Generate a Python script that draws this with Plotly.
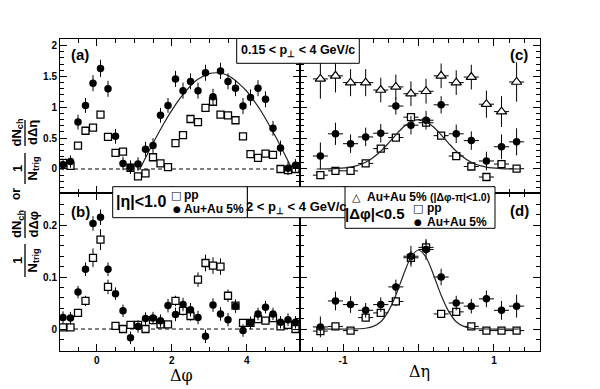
import plotly.graph_objects as go

# ---------------- data ----------------
dphi = [-0.9, -0.7, -0.5, -0.3, -0.1, 0.1, 0.3, 0.5, 0.7, 0.9, 1.1, 1.3, 1.5, 1.7, 1.9, 2.1,
        2.3, 2.5, 2.7, 2.9, 3.1, 3.3, 3.5, 3.7, 3.9, 4.1, 4.3, 4.5, 4.7, 4.9, 5.1, 5.3]
deta = [-1.3, -1.1, -0.9, -0.7, -0.5, -0.3, -0.1, 0.1, 0.3, 0.5, 0.7, 0.9, 1.1, 1.3]

# panel (a): 0.15 < pT < 4 GeV/c, dN/dDphi
a_auau = [0.07, 0.12, 0.76, 1.03, 1.39, 1.63, 1.30, 0.53, 0.09, 0.03, 0.08, 0.32, 0.38, 0.87, 1.03, 1.46,
          1.27, 1.42, 1.27, 1.56, 1.17, 1.59, 1.42, 1.31, 1.02, 1.16, 1.31, 1.13, 0.66, 0.34, 0.01, 0.06]
a_auau_err = [0.09, 0.10, 0.12, 0.12, 0.13, 0.14, 0.13, 0.12, 0.11, 0.11, 0.11, 0.12, 0.12, 0.12, 0.12, 0.13,
              0.13, 0.13, 0.13, 0.13, 0.13, 0.13, 0.13, 0.13, 0.13, 0.13, 0.13, 0.13, 0.12, 0.12, 0.11, 0.10]
a_pp = [0.10, 0.05, 0.38, 0.62, 0.67, 0.88, 0.52, 0.26, 0.28, 0.02, -0.12, -0.07, 0.19, 0.09, 0.03, 0.42,
        0.55, 0.81, 0.76, 0.99, 1.09, 0.88, 0.87, 0.79, 0.53, 0.24, 0.18, 0.25, 0.23, 0.00, -0.02, 0.00]
a_pp_err = [0.05] * 32

# panel (b): 2 < pT < 4 GeV/c, dN/dDphi
b_auau = [0.022, 0.021, 0.071, 0.115, 0.203, 0.215, 0.115, 0.068, 0.035, -0.017, 0.005, 0.020, 0.021, 0.016,
          0.045, 0.028, 0.047, 0.037, 0.022, -0.014, 0.046, 0.029, 0.018, 0.044, -0.003, 0.012, 0.029, 0.042,
          0.029, 0.013, 0.018, 0.013]
b_auau_err = [0.012, 0.012, 0.012, 0.013, 0.014, 0.015, 0.013, 0.012, 0.012, 0.012, 0.012, 0.012, 0.012, 0.012,
              0.013, 0.013, 0.013, 0.013, 0.013, 0.013, 0.013, 0.013, 0.013, 0.013, 0.012, 0.012, 0.012, 0.012,
              0.012, 0.012, 0.012, 0.012]
b_pp = [0.003, 0.003, 0.031, 0.054, 0.137, 0.172, 0.081, 0.006, 0.000, 0.008, 0.008, 0.000, 0.017, 0.009,
        0.009, 0.054, 0.035, 0.025, 0.095, 0.127, 0.122, 0.120, 0.064, 0.045, 0.012, 0.012, 0.019, 0.016,
        0.021, 0.005, 0.008, 0.000]
b_pp_err = [0.005, 0.005, 0.008, 0.010, 0.018, 0.020, 0.014, 0.006, 0.005, 0.005, 0.005, 0.005, 0.006, 0.006,
            0.006, 0.010, 0.009, 0.009, 0.014, 0.016, 0.016, 0.016, 0.012, 0.008, 0.006, 0.006, 0.006, 0.006,
            0.006, 0.005, 0.005, 0.005]

# panel (c): 0.15 < pT < 4 GeV/c, dN/dDeta
c_away = [1.46, 1.51, 1.40, 1.40, 1.28, 1.33, 1.22, 1.26, 1.51, 1.40, 1.49, 1.05, 0.93, 1.41]
c_away_err = [0.32, 0.27, 0.22, 0.22, 0.20, 0.20, 0.20, 0.20, 0.20, 0.20, 0.20, 0.22, 0.25, 0.32]
c_auau = [0.21, 0.57, 0.41, 0.52, 0.58, 1.02, 0.71, 0.79, 1.04, 0.57, 0.46, 0.13, 0.36, 0.44]
c_auau_err = [0.22, 0.18, 0.15, 0.15, 0.15, 0.14, 0.15, 0.15, 0.14, 0.15, 0.15, 0.15, 0.20, 0.22]
c_pp = [-0.10, -0.03, -0.03, 0.09, 0.33, 0.51, 0.84, 0.75, 0.54, 0.21, 0.04, -0.13, 0.08, 0.005]
c_pp_err = [0.05] * 14

# panel (d): 2 < pT < 4 GeV/c, dN/dDeta
d_auau = [0.004, 0.054, 0.047, 0.036, 0.047, 0.081, 0.140, 0.153, 0.100, 0.050, 0.044, 0.058, 0.036, 0.044]
d_auau_err = [0.020, 0.018, 0.016, 0.014, 0.014, 0.014, 0.020, 0.020, 0.016, 0.014, 0.014, 0.016, 0.018, 0.022]
d_pp = [-0.004, 0.005, -0.003, 0.022, 0.031, 0.053, 0.137, 0.157, 0.029, 0.033, 0.005, -0.003, -0.003, -0.003]
d_pp_err = [0.005, 0.005, 0.005, 0.007, 0.007, 0.009, 0.013, 0.013, 0.007, 0.007, 0.005, 0.005, 0.005, 0.005]

deta_halfbin = [0.1] * 14

# fit curves
fit_a_x = [1.15, 1.4, 1.6, 1.8, 2.0, 2.2, 2.4, 2.6, 2.8, 3.0, 3.2, 3.4, 3.6, 3.8, 4.0, 4.2, 4.4, 4.6, 4.8, 5.0, 5.21]
fit_a_y = [0.0, 0.30, 0.53, 0.75, 0.95, 1.13, 1.28, 1.41, 1.49, 1.545, 1.56, 1.54, 1.48, 1.38, 1.26, 1.10,
           0.92, 0.71, 0.49, 0.25, 0.0]
fit_c_x = [-1.35, -1.1, -0.9, -0.7, -0.5, -0.4, -0.3, -0.2, -0.1, 0.0, 0.1, 0.2, 0.3, 0.4, 0.5, 0.7, 0.9, 1.1, 1.35]
fit_c_y = [0.0, 0.006, 0.029, 0.108, 0.288, 0.416, 0.553, 0.68, 0.767, 0.80, 0.767, 0.68, 0.553, 0.416, 0.288,
           0.108, 0.029, 0.006, 0.0]
fit_d_x = [-1.35, -0.9, -0.7, -0.6, -0.5, -0.4, -0.3, -0.2, -0.1, 0.0, 0.1, 0.2, 0.3, 0.4, 0.5, 0.6, 0.7, 0.9, 1.35]
fit_d_y = [0.0, 0.0, 0.0015, 0.005, 0.014, 0.034, 0.065, 0.104, 0.138, 0.152, 0.138, 0.104, 0.065, 0.034,
           0.014, 0.005, 0.0015, 0.0, 0.0]

# ---------------- figure ----------------
W, H = 600, 389
FONT = "Liberation Sans, Arial, Helvetica, sans-serif"


def px(x):
    return x / W


def py(y):
    return 1 - y / H


fig = go.Figure()

sq = dict(symbol='square', size=7, color='white', line=dict(color='black', width=1.3))
ci = dict(symbol='circle', size=7.5, color='black', line=dict(color='black', width=0))
tr = dict(symbol='triangle-up', size=9, color='white', line=dict(color='black', width=1.2))


def ey(arr):
    return dict(type='data', array=arr, color='black', thickness=1, width=0, visible=True)


def ex(arr):
    return dict(type='data', array=arr, color='black', thickness=1, width=0, visible=True)


curve = dict(color='#222222', width=1.2, shape='spline', smoothing=0.8)

# (a)
fig.add_trace(go.Scatter(x=dphi, y=a_pp, mode='markers', marker=sq, error_y=ey(a_pp_err), xaxis='x', yaxis='y'))
fig.add_trace(go.Scatter(x=fit_a_x, y=fit_a_y, mode='lines', line=curve, xaxis='x', yaxis='y'))
fig.add_trace(go.Scatter(x=dphi, y=a_auau, mode='markers', marker=ci, error_y=ey(a_auau_err), xaxis='x', yaxis='y'))
# (c)
fig.add_trace(go.Scatter(x=deta, y=c_away, mode='markers', marker=tr, error_y=ey(c_away_err),
                         error_x=ex(deta_halfbin), xaxis='x2', yaxis='y2'))
fig.add_trace(go.Scatter(x=deta, y=c_pp, mode='markers', marker=sq, error_y=ey(c_pp_err),
                         error_x=ex(deta_halfbin), xaxis='x2', yaxis='y2'))
fig.add_trace(go.Scatter(x=deta, y=c_auau, mode='markers', marker=ci, error_y=ey(c_auau_err),
                         error_x=ex(deta_halfbin), xaxis='x2', yaxis='y2'))
fig.add_trace(go.Scatter(x=fit_c_x, y=fit_c_y, mode='lines', line=curve, xaxis='x2', yaxis='y2'))
# (b)
fig.add_trace(go.Scatter(x=dphi, y=b_pp, mode='markers', marker=sq, error_y=ey(b_pp_err), xaxis='x3', yaxis='y3'))
fig.add_trace(go.Scatter(x=dphi, y=b_auau, mode='markers', marker=ci, error_y=ey(b_auau_err), xaxis='x3', yaxis='y3'))
# (d)
fig.add_trace(go.Scatter(x=deta, y=d_pp, mode='markers', marker=sq, error_y=ey(d_pp_err),
                         error_x=ex(deta_halfbin), xaxis='x4', yaxis='y4'))
fig.add_trace(go.Scatter(x=deta, y=d_auau, mode='markers', marker=ci, error_y=ey(d_auau_err),
                         error_x=ex(deta_halfbin), xaxis='x4', yaxis='y4'))
fig.add_trace(go.Scatter(x=fit_d_x, y=fit_d_y, mode='lines', line=curve, xaxis='x4', yaxis='y4'))

tickfont = dict(family=FONT, size=10, color='black', weight='bold')


def axis(domain, rng, anchor, dtick, mdtick, labels, tickvals=None, ticktext=None):
    d = dict(domain=domain, range=rng, anchor=anchor, showline=True, linecolor='black', linewidth=1,
             mirror='allticks', ticks='inside', ticklen=7, tickwidth=1, tickcolor='black',
             showgrid=False, zeroline=False, showticklabels=labels, tickfont=tickfont,
             minor=dict(ticks='inside', ticklen=4, tickwidth=1, tickcolor='black', dtick=mdtick, showgrid=False))
    if tickvals is not None:
        d.update(tickmode='array', tickvals=tickvals, ticktext=ticktext)
    else:
        d.update(dtick=dtick, tick0=0)
    return d


XL = [px(60), px(300)]
XR = [px(300), px(540)]
YT = [py(193.3), py(38.5)]
YB = [py(350.7), py(193.3)]
phi_rng = [-0.98, 5.42]
eta_rng = [-1.57, 1.61]
top_rng = [-0.394, 2.115]
bot_rng = [-0.0417, 0.261]

fig.update_layout(
    width=W, height=H, margin=dict(l=0, r=0, t=0, b=0),
    paper_bgcolor='white', plot_bgcolor='white', showlegend=False,
    xaxis=axis(XL, phi_rng, 'y', 2, 0.5, False),
    yaxis=axis(YT, top_rng, 'x', 0.5, 0.1, True),
    xaxis2=axis(XR, eta_rng, 'y2', None, 0.2, False, [-1, 0, 1], ['-1', ' ', '1']),
    yaxis2=axis(YT, top_rng, 'x2', 0.5, 0.1, False),
    xaxis3=axis(XL, phi_rng, 'y3', 2, 0.5, True),
    yaxis3=axis(YB, bot_rng, 'x3', 0.1, 0.02, True),
    xaxis4=axis(XR, eta_rng, 'y4', None, 0.2, True, [-1, 0, 1], ['-1', ' ', '1']),
    yaxis4=axis(YB, bot_rng, 'x4', 0.1, 0.02, False),
)

shapes = []
# dashed zero lines in (a) and (b)
shapes.append(dict(type='line', xref='x domain', yref='y', x0=0, x1=1, y0=0, y1=0,
                   line=dict(color='black', width=1, dash='4px,3px'), layer='below'))
shapes.append(dict(type='line', xref='x3 domain', yref='y3', x0=0, x1=1, y0=0, y1=0,
                   line=dict(color='black', width=1, dash='4px,3px'), layer='below'))


def box(x0, y0, x1, y1):
    shapes.append(dict(type='rect', xref='paper', yref='paper', x0=px(x0), x1=px(x1), y0=py(y1), y1=py(y0),
                       fillcolor='white', line=dict(color='black', width=1), layer='above'))


box(236.7, 38.5, 359.3, 63.3)
box(247.3, 186.7, 346.7, 217.7)
box(112.7, 186.7, 247.3, 217.7)
box(345, 186.7, 495, 228.3)


def vbar(x, y0, y1):
    shapes.append(dict(type='line', xref='paper', yref='paper', x0=px(x), x1=px(x), y0=py(y0), y1=py(y1),
                       line=dict(color='black', width=1.3), layer='above'))


vbar(25, 120, 146)
vbar(25, 153, 184)
vbar(25, 211, 238)
vbar(25, 244, 277)

fig.update_layout(shapes=shapes)

ann = []


def text(x, y, s, size=12, angle=0, xanchor='center', bold=True, family=FONT):
    ann.append(dict(x=px(x), y=py(y), xref='paper', yref='paper', text=('<b>%s</b>' % s) if bold else s,
                    showarrow=False, textangle=angle, xanchor=xanchor, yanchor='middle',
                    font=dict(family=family, size=size, color='black')))


text(80, 54, '(a)', 15)
text(80, 212, '(b)', 15)
text(519, 54, '(c)', 15)
text(519, 210, '(d)', 15)

text(298, 51, '0.15 &lt; p<sub>⊥</sub> &lt; 4 GeV/c', 12.5)
text(296.5, 207.5, '2 &lt; p<sub>⊥</sub> &lt; 4 GeV/c', 13)

text(141, 201.5, '|η|&lt;1.0', 16)
text(175.5, 195.5, '□', 11, bold=False, family='DejaVu Sans')
text(182, 194.5, 'pp', 12, xanchor='left')
text(177, 208.5, '●', 9, bold=False, family='DejaVu Sans')
text(182, 208.5, 'Au+Au 5%', 12, xanchor='left')

text(356.7, 197, '△', 11, bold=False, family='DejaVu Sans')
text(365, 197, 'Au+Au 5% <span style="font-size:10.5px">(|Δφ-π|&lt;1.0)</span>', 12, xanchor='left')
text(374.5, 213.5, '|Δφ|&lt;0.5', 15)
text(417.5, 208.5, '□', 11, bold=False, family='DejaVu Sans')
text(425.5, 208, 'pp', 12, xanchor='left')
text(418.3, 222, '●', 9, bold=False, family='DejaVu Sans')
text(425.5, 221.5, 'Au+Au 5%', 12, xanchor='left')

# axis titles
text(181, 375, 'Δφ', 16, bold=False, family='DejaVu Serif')
text(419, 371, 'Δη', 16, bold=False, family='DejaVu Serif')

# composite y-axis title
text(17.5, 133, 'dN<sub>ch</sub>', 13, angle=-90)
text(33, 133, 'dΔη', 13, angle=-90)
text(17.5, 168.5, '1', 13, angle=-90)
text(33, 168.5, 'N<sub>trig</sub>', 13, angle=-90)
text(16, 194, 'or', 12, angle=-90)
text(17.5, 224.5, 'dN<sub>ch</sub>', 13, angle=-90)
text(33, 224.5, 'dΔφ', 13, angle=-90)
text(17.5, 260.5, '1', 13, angle=-90)
text(33, 260.5, 'N<sub>trig</sub>', 13, angle=-90)

fig.update_layout(annotations=ann)

fig.write_html("out.html", config={'displayModeBar': False},
               post_script="document.body.style.margin='0';document.body.style.padding='0';"
                           "document.body.style.overflow='hidden';")
